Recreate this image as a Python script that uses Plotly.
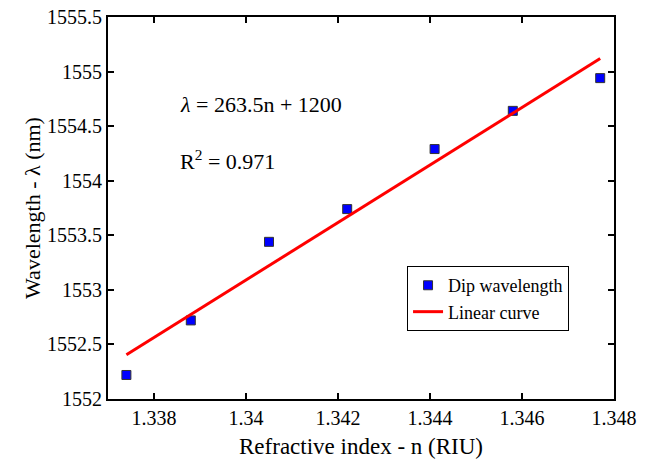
import plotly.graph_objects as go

n_values = [1.3374, 1.3388, 1.3405, 1.3422, 1.3441, 1.3458, 1.3477]
dip_wavelength = [1552.22, 1552.72, 1553.44, 1553.74, 1554.29, 1554.64, 1554.94]
slope = 263.5
intercept = 1200
fit_x = [1.3374, 1.3477]
fit_y = [slope * x + intercept for x in fit_x]
x_ticks = [1.338, 1.340, 1.342, 1.344, 1.346, 1.348]
y_ticks = [1552, 1552.5, 1553, 1553.5, 1554, 1554.5, 1555, 1555.5]

font = "Liberation Serif"

fig = go.Figure()
fig.add_trace(go.Scatter(x=n_values, y=dip_wavelength, mode="markers", name="Dip wavelength",
                         marker=dict(symbol="square", size=9, color="#0000ff",
                                     line=dict(color="#333333", width=1))))
fig.add_trace(go.Scatter(x=fit_x, y=fit_y, mode="lines", name="Linear curve",
                         line=dict(color="#ff0000", width=3)))

axis_common = dict(showline=True, linecolor="black", linewidth=2, mirror="ticks",
                   ticks="inside", ticklen=6, tickwidth=2, tickcolor="black",
                   showgrid=False, zeroline=False, automargin=False,
                   tickfont=dict(family=font, size=20, color="black"))

fig.update_xaxes(range=[1.337, 1.348], tickvals=x_ticks,
                 ticktext=[("%g" % v) for v in x_ticks],
                 title=dict(text="Refractive index - n (RIU)", font=dict(family=font, size=23, color="black")),
                 **axis_common)
fig.update_yaxes(range=[1552, 1555.5], tickvals=y_ticks,
                 ticktext=[("%g" % v) for v in y_ticks],
                 title=dict(text="Wavelength - λ (nm)", font=dict(family=font, size=22, color="black"),
                            standoff=0),
                 **axis_common)

fig.add_annotation(x=1.33852, y=1554.70, xref="x", yref="y", xanchor="left", yanchor="middle",
                   text="<i>λ</i> = 263.5n + 1200", showarrow=False,
                   font=dict(family=font, size=22, color="black"))
fig.add_annotation(x=1.33852, y=1554.19, xref="x", yref="y", xanchor="left", yanchor="middle",
                   text="R<sup>2</sup> = 0.971", showarrow=False,
                   font=dict(family=font, size=22, color="black"))

fig.update_layout(width=648, height=459, margin=dict(l=108, r=34, t=17, b=60),
                  plot_bgcolor="white", paper_bgcolor="white",
                  font=dict(family=font, color="black"),
                  legend=dict(x=0.591, y=0.348, xanchor="left", yanchor="top",
                              bgcolor="white", bordercolor="black", borderwidth=1,
                              font=dict(family=font, size=18, color="black"),
                              tracegroupgap=0, itemwidth=30))

fig.write_html("out.html", config={"displayModeBar": False},
               post_script="document.body.style.margin='0';")
